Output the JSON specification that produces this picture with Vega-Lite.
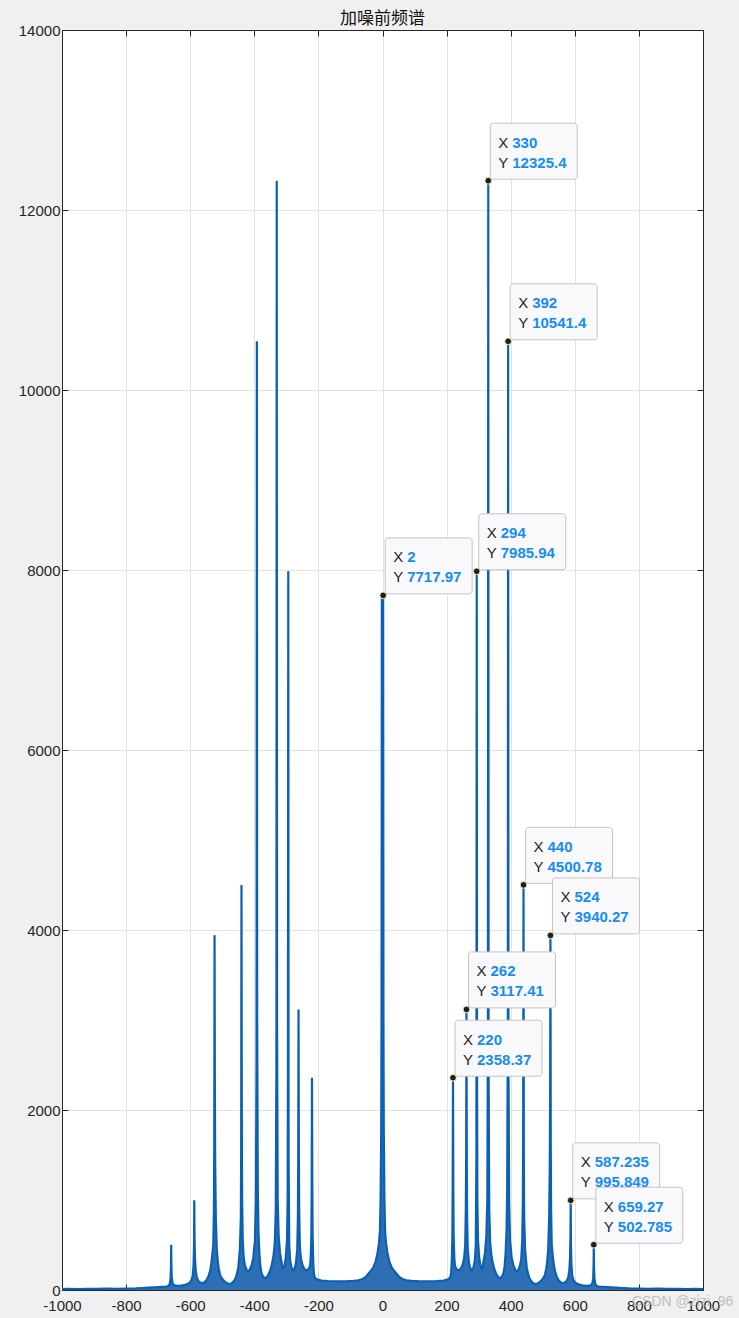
{
  "$schema": "https://vega.github.io/schema/vega-lite/v6.json",
  "autosize": {"type": "none"},
  "width": 641,
  "height": 1260,
  "padding": {"left": 62, "top": 30, "right": 36, "bottom": 28},
  "background": "#f0f0f0",
  "view": {"fill": "white", "stroke": null},
  "title": {
    "text": "加噪前频谱",
    "font": "Noto Sans CJK SC",
    "fontSize": 17,
    "fontWeight": "normal",
    "color": "#111111",
    "anchor": "middle",
    "offset": 4,
    "dy": 9
  },
  "datasets": {
    "spec": [
      {"f": -1000, "v": 10}, {"f": -980, "v": 12}, {"f": -950, "v": 11}, {"f": -920, "v": 13}, {"f": -890, "v": 12},
      {"f": -860, "v": 15}, {"f": -830, "v": 14}, {"f": -800, "v": 16}, {"f": -770, "v": 18}, {"f": -750, "v": 22},
      {"f": -730, "v": 26}, {"f": -710, "v": 30}, {"f": -690, "v": 34}, {"f": -675, "v": 38}, {"f": -668, "v": 45},
      {"f": -664, "v": 65}, {"f": -661.5, "v": 120}, {"f": -660, "v": 250}, {"f": -659.27, "v": 502.785}, {"f": -658.7, "v": 280},
      {"f": -657.5, "v": 140}, {"f": -655, "v": 75}, {"f": -651, "v": 55}, {"f": -646, "v": 48}, {"f": -640, "v": 46},
      {"f": -632, "v": 48}, {"f": -624, "v": 52}, {"f": -616, "v": 58}, {"f": -609, "v": 65}, {"f": -602, "v": 80},
      {"f": -596, "v": 110}, {"f": -592, "v": 160}, {"f": -589.5, "v": 280}, {"f": -588, "v": 500}, {"f": -587.235, "v": 995.849},
      {"f": -586.5, "v": 600}, {"f": -585, "v": 350}, {"f": -583, "v": 220}, {"f": -580, "v": 150}, {"f": -576, "v": 110},
      {"f": -572, "v": 90}, {"f": -567, "v": 80}, {"f": -561, "v": 78}, {"f": -556, "v": 85}, {"f": -550, "v": 105},
      {"f": -544, "v": 144}, {"f": -538, "v": 210}, {"f": -533, "v": 322}, {"f": -528, "v": 500}, {"f": -526, "v": 900},
      {"f": -525, "v": 1600}, {"f": -524, "v": 3940.27}, {"f": -523, "v": 2200}, {"f": -522, "v": 1400}, {"f": -520, "v": 800},
      {"f": -517, "v": 450}, {"f": -514, "v": 322}, {"f": -511, "v": 240}, {"f": -507, "v": 170}, {"f": -503, "v": 140},
      {"f": -497, "v": 110}, {"f": -490, "v": 85}, {"f": -483, "v": 72}, {"f": -477, "v": 68}, {"f": -472, "v": 72},
      {"f": -466, "v": 90}, {"f": -460, "v": 119}, {"f": -455, "v": 170}, {"f": -450, "v": 248}, {"f": -445, "v": 450},
      {"f": -442, "v": 800}, {"f": -441, "v": 1500}, {"f": -440, "v": 4500.78}, {"f": -439, "v": 2000}, {"f": -438, "v": 1000},
      {"f": -436, "v": 550}, {"f": -433, "v": 350}, {"f": -429, "v": 270}, {"f": -424, "v": 225}, {"f": -419, "v": 211},
      {"f": -414, "v": 225}, {"f": -408, "v": 280}, {"f": -403, "v": 359}, {"f": -398, "v": 550}, {"f": -395, "v": 1000},
      {"f": -393, "v": 2600}, {"f": -392, "v": 10541.4}, {"f": -391, "v": 3000}, {"f": -389, "v": 1100}, {"f": -387, "v": 650},
      {"f": -384, "v": 400}, {"f": -381, "v": 260}, {"f": -377, "v": 180}, {"f": -372, "v": 145}, {"f": -367, "v": 132},
      {"f": -362, "v": 140}, {"f": -356, "v": 170}, {"f": -350, "v": 220}, {"f": -345, "v": 285}, {"f": -340, "v": 380},
      {"f": -336, "v": 520}, {"f": -333, "v": 900}, {"f": -331, "v": 2500}, {"f": -330, "v": 12325.4}, {"f": -329, "v": 3000},
      {"f": -327, "v": 1000}, {"f": -324, "v": 600}, {"f": -320, "v": 420}, {"f": -316, "v": 330}, {"f": -311, "v": 235},
      {"f": -306, "v": 260}, {"f": -302, "v": 350}, {"f": -298, "v": 550}, {"f": -296, "v": 1000}, {"f": -295, "v": 2500},
      {"f": -294, "v": 7985.94}, {"f": -293, "v": 1500}, {"f": -291, "v": 500}, {"f": -288, "v": 320}, {"f": -283, "v": 240},
      {"f": -278, "v": 215}, {"f": -274, "v": 240}, {"f": -270, "v": 300}, {"f": -266, "v": 450}, {"f": -264, "v": 800},
      {"f": -263, "v": 1400}, {"f": -262, "v": 3117.41}, {"f": -261, "v": 1500}, {"f": -260, "v": 900}, {"f": -258, "v": 500},
      {"f": -255, "v": 360}, {"f": -250, "v": 280}, {"f": -244, "v": 235}, {"f": -237, "v": 215}, {"f": -230, "v": 235},
      {"f": -226, "v": 270}, {"f": -224, "v": 360}, {"f": -222, "v": 600}, {"f": -221, "v": 1100}, {"f": -220, "v": 2358.37},
      {"f": -219, "v": 1200}, {"f": -218, "v": 600}, {"f": -216, "v": 300}, {"f": -214, "v": 180}, {"f": -211, "v": 137},
      {"f": -205, "v": 118}, {"f": -190, "v": 105}, {"f": -170, "v": 100}, {"f": -140, "v": 97}, {"f": -110, "v": 98},
      {"f": -90, "v": 102}, {"f": -75, "v": 108}, {"f": -62, "v": 122}, {"f": -52, "v": 145}, {"f": -44, "v": 180},
      {"f": -36, "v": 215}, {"f": -29, "v": 248}, {"f": -22, "v": 310}, {"f": -16, "v": 396}, {"f": -11, "v": 520},
      {"f": -8, "v": 655}, {"f": -6, "v": 1000}, {"f": -4, "v": 1800}, {"f": -3, "v": 3000}, {"f": -2, "v": 7700},
      {"f": -1, "v": 5200}, {"f": 0, "v": 4500},
      {"f": 1, "v": 5200}, {"f": 2, "v": 7717.97}, {"f": 3, "v": 3000}, {"f": 4, "v": 1800}, {"f": 6, "v": 1000},
      {"f": 8, "v": 655}, {"f": 11, "v": 520}, {"f": 16, "v": 396}, {"f": 22, "v": 310}, {"f": 29, "v": 248},
      {"f": 36, "v": 215}, {"f": 44, "v": 180}, {"f": 52, "v": 145}, {"f": 62, "v": 122}, {"f": 75, "v": 108},
      {"f": 90, "v": 102}, {"f": 110, "v": 98}, {"f": 140, "v": 97}, {"f": 170, "v": 100}, {"f": 190, "v": 105},
      {"f": 205, "v": 118}, {"f": 211, "v": 137}, {"f": 214, "v": 180}, {"f": 216, "v": 300}, {"f": 218, "v": 600},
      {"f": 219, "v": 1200}, {"f": 220, "v": 2358.37}, {"f": 221, "v": 1100}, {"f": 222, "v": 600}, {"f": 224, "v": 360},
      {"f": 226, "v": 270}, {"f": 230, "v": 235}, {"f": 237, "v": 215}, {"f": 244, "v": 235}, {"f": 250, "v": 280},
      {"f": 255, "v": 360}, {"f": 258, "v": 500}, {"f": 260, "v": 900}, {"f": 261, "v": 1500}, {"f": 262, "v": 3117.41},
      {"f": 263, "v": 1400}, {"f": 264, "v": 800}, {"f": 266, "v": 450}, {"f": 270, "v": 300}, {"f": 274, "v": 240},
      {"f": 278, "v": 215}, {"f": 283, "v": 240}, {"f": 288, "v": 320}, {"f": 291, "v": 500}, {"f": 293, "v": 1500},
      {"f": 294, "v": 7985.94}, {"f": 295, "v": 2500}, {"f": 296, "v": 1000}, {"f": 298, "v": 550}, {"f": 302, "v": 350},
      {"f": 306, "v": 260}, {"f": 311, "v": 235}, {"f": 316, "v": 330}, {"f": 320, "v": 420}, {"f": 324, "v": 600},
      {"f": 327, "v": 1000}, {"f": 329, "v": 3000}, {"f": 330, "v": 12325.4}, {"f": 331, "v": 2500}, {"f": 333, "v": 900},
      {"f": 336, "v": 520}, {"f": 340, "v": 380}, {"f": 345, "v": 285}, {"f": 350, "v": 220}, {"f": 356, "v": 170},
      {"f": 362, "v": 140}, {"f": 367, "v": 132}, {"f": 372, "v": 145}, {"f": 377, "v": 180}, {"f": 381, "v": 260},
      {"f": 384, "v": 400}, {"f": 387, "v": 650}, {"f": 389, "v": 1100}, {"f": 391, "v": 3000}, {"f": 392, "v": 10541.4},
      {"f": 393, "v": 2600}, {"f": 395, "v": 1000}, {"f": 398, "v": 550}, {"f": 403, "v": 359}, {"f": 408, "v": 280},
      {"f": 414, "v": 225}, {"f": 419, "v": 211}, {"f": 424, "v": 225}, {"f": 429, "v": 270}, {"f": 433, "v": 350},
      {"f": 436, "v": 550}, {"f": 438, "v": 1000}, {"f": 439, "v": 2000}, {"f": 440, "v": 4500.78}, {"f": 441, "v": 1500},
      {"f": 442, "v": 800}, {"f": 445, "v": 450}, {"f": 450, "v": 248}, {"f": 455, "v": 170}, {"f": 460, "v": 119},
      {"f": 466, "v": 90}, {"f": 472, "v": 72}, {"f": 477, "v": 68}, {"f": 483, "v": 72}, {"f": 490, "v": 85},
      {"f": 497, "v": 110}, {"f": 503, "v": 140}, {"f": 507, "v": 170}, {"f": 511, "v": 240}, {"f": 514, "v": 322},
      {"f": 517, "v": 450}, {"f": 520, "v": 800}, {"f": 522, "v": 1400}, {"f": 523, "v": 2200}, {"f": 524, "v": 3940.27},
      {"f": 525, "v": 1600}, {"f": 526, "v": 900}, {"f": 528, "v": 500}, {"f": 533, "v": 322}, {"f": 538, "v": 210},
      {"f": 544, "v": 144}, {"f": 550, "v": 105}, {"f": 556, "v": 85}, {"f": 561, "v": 78}, {"f": 567, "v": 80},
      {"f": 572, "v": 90}, {"f": 576, "v": 110}, {"f": 580, "v": 150}, {"f": 583, "v": 220}, {"f": 585, "v": 350},
      {"f": 586.5, "v": 600}, {"f": 587.235, "v": 995.849}, {"f": 588, "v": 500}, {"f": 589.5, "v": 280}, {"f": 592, "v": 160},
      {"f": 596, "v": 110}, {"f": 602, "v": 80}, {"f": 609, "v": 65}, {"f": 616, "v": 58}, {"f": 624, "v": 52},
      {"f": 632, "v": 48}, {"f": 640, "v": 46}, {"f": 646, "v": 48}, {"f": 651, "v": 55}, {"f": 655, "v": 75},
      {"f": 657.5, "v": 140}, {"f": 658.7, "v": 280}, {"f": 659.27, "v": 502.785}, {"f": 660, "v": 250}, {"f": 661.5, "v": 120},
      {"f": 664, "v": 65}, {"f": 668, "v": 45}, {"f": 675, "v": 38}, {"f": 690, "v": 34}, {"f": 710, "v": 30},
      {"f": 730, "v": 26}, {"f": 750, "v": 22}, {"f": 770, "v": 18}, {"f": 800, "v": 16}, {"f": 830, "v": 14},
      {"f": 860, "v": 15}, {"f": 890, "v": 12}, {"f": 920, "v": 13}, {"f": 950, "v": 11}, {"f": 980, "v": 12},
      {"f": 1000, "v": 10}
    ],
    "tips": [
      {"f": 2, "v": 7717.97, "xs": "2", "ys": "7717.97"},
      {"f": 220, "v": 2358.37, "xs": "220", "ys": "2358.37"},
      {"f": 262, "v": 3117.41, "xs": "262", "ys": "3117.41"},
      {"f": 294, "v": 7985.94, "xs": "294", "ys": "7985.94"},
      {"f": 330, "v": 12325.4, "xs": "330", "ys": "12325.4"},
      {"f": 392, "v": 10541.4, "xs": "392", "ys": "10541.4"},
      {"f": 440, "v": 4500.78, "xs": "440", "ys": "4500.78"},
      {"f": 524, "v": 3940.27, "xs": "524", "ys": "3940.27"},
      {"f": 587.235, "v": 995.849, "xs": "587.235", "ys": "995.849"},
      {"f": 659.27, "v": 502.785, "xs": "659.27", "ys": "502.785"}
    ],
    "mark": [
      {"f": 1000, "v": 0, "t": "CSDN @zizi_96"}
    ]
  },
  "config": {
    "axis": {
      "labelFont": "Liberation Sans",
      "labelFontSize": 15,
      "labelColor": "#262626",
      "domainColor": "#262626",
      "tickColor": "#262626",
      "gridColor": "#e3e3e3",
      "title": null
    }
  },
  "resolve": {"axis": {"x": "independent", "y": "independent"}},
  "layer": [
    {
      "data": {"name": "spec"},
      "mark": {"type": "area", "color": "#2e6eb5", "opacity": 1},
      "encoding": {
        "x": {
          "field": "f", "type": "quantitative",
          "scale": {"domain": [-1000, 1000], "nice": false, "zero": false},
          "axis": {
            "orient": "bottom",
            "values": [-1000, -800, -600, -400, -200, 0, 200, 400, 600, 800, 1000],
            "labelExpr": "'' + datum.value",
            "tickSize": -6,
            "labelPadding": 14,
            "labelFlush": false,
            "grid": true
          }
        },
        "y": {
          "field": "v", "type": "quantitative",
          "scale": {"domain": [0, 14000], "nice": false},
          "axis": {
            "orient": "left",
            "values": [0, 2000, 4000, 6000, 8000, 10000, 12000, 14000],
            "labelExpr": "'' + datum.value",
            "tickSize": -6,
            "labelPadding": 8,
            "labelFlush": false,
            "grid": true
          }
        }
      }
    },
    {
      "data": {"name": "spec"},
      "mark": {"type": "line", "color": "#0a61b3", "strokeWidth": 2.2},
      "encoding": {
        "x": {
          "field": "f", "type": "quantitative",
          "axis": {
            "orient": "top",
            "values": [-1000, -800, -600, -400, -200, 0, 200, 400, 600, 800, 1000],
            "labels": false,
            "tickSize": -6,
            "grid": false
          }
        },
        "y": {
          "field": "v", "type": "quantitative",
          "axis": {
            "orient": "right",
            "values": [0, 2000, 4000, 6000, 8000, 10000, 12000, 14000],
            "labels": false,
            "tickSize": -6,
            "grid": false
          }
        }
      }
    },
    {
      "data": {"name": "tips"},
      "mark": {
        "type": "rect",
        "width": 87,
        "height": 56,
        "xOffset": 45.5,
        "yOffset": -29.5,
        "cornerRadius": 3,
        "fill": "#f9f9fc",
        "stroke": "#c4c4c4",
        "strokeWidth": 1
      },
      "encoding": {
        "x": {"field": "f", "type": "quantitative", "axis": null},
        "y": {"field": "v", "type": "quantitative", "axis": null}
      }
    },
    {
      "data": {"name": "tips"},
      "mark": {"type": "point", "filled": true, "size": 45, "color": "#1e1e1e", "stroke": "#f3eebf", "strokeWidth": 1, "opacity": 1},
      "encoding": {
        "x": {"field": "f", "type": "quantitative", "axis": null},
        "y": {"field": "v", "type": "quantitative", "axis": null}
      }
    },
    {
      "data": {"name": "tips"},
      "mark": {"type": "text", "text": "X", "align": "left", "baseline": "alphabetic", "dx": 10, "dy": -33, "font": "Liberation Sans", "fontSize": 15, "color": "#262626"},
      "encoding": {
        "x": {"field": "f", "type": "quantitative", "axis": null},
        "y": {"field": "v", "type": "quantitative", "axis": null}
      }
    },
    {
      "data": {"name": "tips"},
      "mark": {"type": "text", "text": "Y", "align": "left", "baseline": "alphabetic", "dx": 10, "dy": -13, "font": "Liberation Sans", "fontSize": 15, "color": "#262626"},
      "encoding": {
        "x": {"field": "f", "type": "quantitative", "axis": null},
        "y": {"field": "v", "type": "quantitative", "axis": null}
      }
    },
    {
      "data": {"name": "tips"},
      "mark": {"type": "text", "align": "left", "baseline": "alphabetic", "dx": 24, "dy": -33, "font": "Liberation Sans", "fontSize": 15, "fontWeight": "bold", "color": "#168cf4"},
      "encoding": {
        "x": {"field": "f", "type": "quantitative", "axis": null},
        "y": {"field": "v", "type": "quantitative", "axis": null},
        "text": {"field": "xs"}
      }
    },
    {
      "data": {"name": "tips"},
      "mark": {"type": "text", "align": "left", "baseline": "alphabetic", "dx": 24, "dy": -13, "font": "Liberation Sans", "fontSize": 15, "fontWeight": "bold", "color": "#168cf4"},
      "encoding": {
        "x": {"field": "f", "type": "quantitative", "axis": null},
        "y": {"field": "v", "type": "quantitative", "axis": null},
        "text": {"field": "ys"}
      }
    },
    {
      "data": {"name": "mark"},
      "mark": {"type": "text", "align": "left", "baseline": "middle", "dx": -71, "dy": 12, "font": "Liberation Sans", "fontSize": 14, "color": "#b4b4b4", "opacity": 0.8},
      "encoding": {
        "x": {"field": "f", "type": "quantitative", "axis": null},
        "y": {"field": "v", "type": "quantitative", "axis": null},
        "text": {"field": "t"}
      }
    }
  ]
}
